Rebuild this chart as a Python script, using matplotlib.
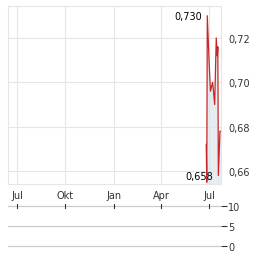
import matplotlib
matplotlib.use("Agg")
import matplotlib.pyplot as plt
import matplotlib.dates as mdates
from matplotlib.ticker import FuncFormatter
import numpy as np
import pandas as pd

# price data
dates = pd.to_datetime([
    "2025-06-25", "2025-06-26", "2025-06-27", "2025-07-01", "2025-07-03",
    "2025-07-07", "2025-07-08", "2025-07-11", "2025-07-14", "2025-07-16",
    "2025-07-17", "2025-07-18", "2025-07-21", "2025-07-23",
])
prices = [0.672, 0.655, 0.730, 0.706, 0.696,
          0.700, 0.698, 0.690, 0.720, 0.712,
          0.716, 0.658, 0.678, 0.678]

month_ticks = pd.to_datetime(["2024-07-01", "2024-10-01", "2025-01-01",
                              "2025-04-01", "2025-07-01"])
month_labels = ["Jul", "Okt", "Jan", "Apr", "Jul"]
price_ticks = [0.66, 0.68, 0.70, 0.72]
volume_ticks = [0, 5, 10]

max_label = "0,730"
min_label = "0,658"

x_start = pd.Timestamp("2024-06-14")
x_end = pd.Timestamp("2025-07-23")

W, H = 264, 255
fig = plt.figure(figsize=(W / 100, H / 100), dpi=100)

grid_col = "#e6e6e6"
text_col = "#333333"
line_col = "#c62828"

# main price panel
ax = fig.add_axes([8 / W, 1 - 185 / H, 213 / W, 178 / H])
ax.plot(dates, prices, color=line_col, linewidth=0.9, zorder=3)
ax.fill_between(dates, prices, 0.6, color="#dde4ea", alpha=0.7, linewidth=0, zorder=2)
ax.set_xlim(x_start, x_end)
ax.set_ylim(0.6542, 0.7344)

ax.set_xticks(month_ticks)
ax.set_xticklabels(month_labels)
ax.set_yticks(price_ticks)
ax.yaxis.set_major_formatter(FuncFormatter(lambda v, p: f"{v:.2f}".replace(".", ",")))
ax.yaxis.tick_right()
ax.tick_params(axis="both", length=0, labelsize=7, colors=text_col)
ax.tick_params(axis="y", pad=5)
ax.tick_params(axis="x", pad=4)
ax.grid(True, color=grid_col, linewidth=0.8)
ax.set_axisbelow(True)
for s in ax.spines.values():
    s.set_color(grid_col)
    s.set_linewidth(0.8)

# min / max labels
imax = int(np.argmax(prices))
imin = 11
ax.annotate(max_label, (dates[imax], prices[imax]), xytext=(-5, 0),
            textcoords="offset pixels", ha="right", va="center",
            fontsize=7, color="black")
ax.annotate(min_label, (dates[imin], prices[imin]), xytext=(-5, 0),
            textcoords="offset pixels", ha="right", va="center",
            fontsize=7, color="black")

# volume panel (empty), 4 px per unit, padded half a unit each side
ax2 = fig.add_axes([8 / W, 1 - 249 / H, 213 / W, 44 / H])
ax2.set_xlim(x_start, x_end)
ax2.set_ylim(-0.5, 10.5)
ax2.set_yticks(volume_ticks)
ax2.yaxis.tick_right()
for v in volume_ticks:
    ax2.axhline(v, color="#cccccc", linewidth=0.9, zorder=1)
for t in month_ticks:
    ax2.plot([t, t], [9.6, 10.4], color="#333333", linewidth=0.8, zorder=2)
ax2.set_xticks([])
ax2.tick_params(axis="y", length=4, width=0.8, colors="#333333", labelsize=7, pad=1)
for s in ax2.spines.values():
    s.set_visible(False)

fig.savefig("out.png", dpi=100)
